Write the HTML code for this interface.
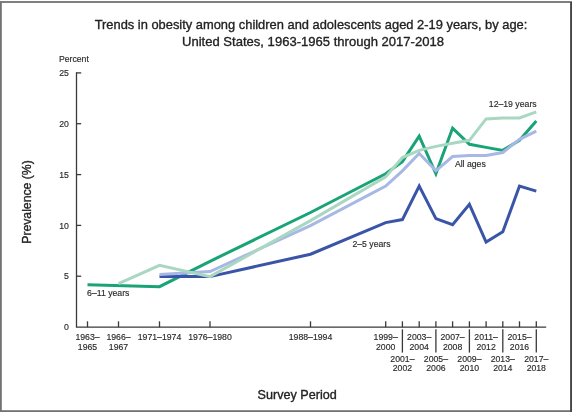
<!DOCTYPE html>
<html><head><meta charset="utf-8"><style>
html,body{margin:0;padding:0;background:#fff;}
body{width:573px;height:414px;overflow:hidden;}
svg{display:block;font-family:"Liberation Sans",sans-serif;will-change:transform;filter:blur(0.35px);}
</style></head><body>
<svg width="573" height="414" viewBox="0 0 573 414">
<rect x="0.9" y="2.0" width="570.2" height="409.1" fill="none" stroke="#727272" stroke-width="1.8"/>
<line x1="571.1" y1="2" x2="571.1" y2="411.9" stroke="#404040" stroke-width="1.6"/>
<text x="311" y="28.6" text-anchor="middle" font-size="13.5" fill="#222" stroke="#222" stroke-width="0.35" textLength="432.7" lengthAdjust="spacingAndGlyphs">Trends in obesity among children and adolescents aged 2-19 years, by age:</text>
<text x="313" y="46.1" text-anchor="middle" font-size="13.5" fill="#222" stroke="#222" stroke-width="0.35" textLength="262" lengthAdjust="spacingAndGlyphs">United States, 1963-1965 through 2017-2018</text>
<text transform="translate(30.5,202) rotate(-90)" text-anchor="middle" font-size="13.4" fill="#222" stroke="#222" stroke-width="0.35" textLength="83.5" lengthAdjust="spacingAndGlyphs">Prevalence (%)</text>
<text x="297.2" y="399.4" text-anchor="middle" font-size="12.5" fill="#222" stroke="#222" stroke-width="0.35" textLength="79.2" lengthAdjust="spacingAndGlyphs">Survey Period</text>
<text x="58.9" y="61.8" font-size="8.7" fill="#2a2a2a" stroke="#2a2a2a" stroke-width="0.15">Percent</text>
<text x="68.8" y="330.2" text-anchor="end" font-size="8.7" fill="#2a2a2a" stroke="#2a2a2a" stroke-width="0.15">0</text>
<text x="68.8" y="279.4" text-anchor="end" font-size="8.7" fill="#2a2a2a" stroke="#2a2a2a" stroke-width="0.15">5</text>
<line x1="76.5" y1="276.2" x2="81.2" y2="276.2" stroke="#3a3a3a" stroke-width="1.3"/>
<text x="68.8" y="228.5" text-anchor="end" font-size="8.7" fill="#2a2a2a" stroke="#2a2a2a" stroke-width="0.15">10</text>
<line x1="76.5" y1="225.4" x2="81.2" y2="225.4" stroke="#3a3a3a" stroke-width="1.3"/>
<text x="68.8" y="177.7" text-anchor="end" font-size="8.7" fill="#2a2a2a" stroke="#2a2a2a" stroke-width="0.15">15</text>
<line x1="76.5" y1="174.6" x2="81.2" y2="174.6" stroke="#3a3a3a" stroke-width="1.3"/>
<text x="68.8" y="126.8" text-anchor="end" font-size="8.7" fill="#2a2a2a" stroke="#2a2a2a" stroke-width="0.15">20</text>
<line x1="76.5" y1="123.7" x2="81.2" y2="123.7" stroke="#3a3a3a" stroke-width="1.3"/>
<text x="68.8" y="76.0" text-anchor="end" font-size="8.7" fill="#2a2a2a" stroke="#2a2a2a" stroke-width="0.15">25</text>
<line x1="76.5" y1="72.9" x2="81.2" y2="72.9" stroke="#3a3a3a" stroke-width="1.3"/>
<polyline points="76.5,72.3 76.5,327.2 546.2,327.2" fill="none" stroke="#3a3a3a" stroke-width="1.3"/>
<line x1="87.5" y1="321.3" x2="87.5" y2="327.2" stroke="#3a3a3a" stroke-width="1.3"/>
<line x1="118.5" y1="321.3" x2="118.5" y2="327.2" stroke="#3a3a3a" stroke-width="1.3"/>
<line x1="159.5" y1="321.3" x2="159.5" y2="327.2" stroke="#3a3a3a" stroke-width="1.3"/>
<line x1="210.0" y1="321.3" x2="210.0" y2="327.2" stroke="#3a3a3a" stroke-width="1.3"/>
<line x1="310.5" y1="321.3" x2="310.5" y2="327.2" stroke="#3a3a3a" stroke-width="1.3"/>
<line x1="385.7" y1="321.3" x2="385.7" y2="327.2" stroke="#3a3a3a" stroke-width="1.3"/>
<line x1="402.4" y1="321.3" x2="402.4" y2="327.2" stroke="#3a3a3a" stroke-width="1.3"/>
<line x1="419.2" y1="321.3" x2="419.2" y2="327.2" stroke="#3a3a3a" stroke-width="1.3"/>
<line x1="435.9" y1="321.3" x2="435.9" y2="327.2" stroke="#3a3a3a" stroke-width="1.3"/>
<line x1="452.6" y1="321.3" x2="452.6" y2="327.2" stroke="#3a3a3a" stroke-width="1.3"/>
<line x1="469.4" y1="321.3" x2="469.4" y2="327.2" stroke="#3a3a3a" stroke-width="1.3"/>
<line x1="486.1" y1="321.3" x2="486.1" y2="327.2" stroke="#3a3a3a" stroke-width="1.3"/>
<line x1="502.8" y1="321.3" x2="502.8" y2="327.2" stroke="#3a3a3a" stroke-width="1.3"/>
<line x1="519.5" y1="321.3" x2="519.5" y2="327.2" stroke="#3a3a3a" stroke-width="1.3"/>
<line x1="536.3" y1="321.3" x2="536.3" y2="327.2" stroke="#3a3a3a" stroke-width="1.3"/>
<line x1="402.4" y1="329.3" x2="402.4" y2="352.6" stroke="#3a3a3a" stroke-width="1.3"/>
<line x1="435.9" y1="329.3" x2="435.9" y2="352.6" stroke="#3a3a3a" stroke-width="1.3"/>
<line x1="469.4" y1="329.3" x2="469.4" y2="352.6" stroke="#3a3a3a" stroke-width="1.3"/>
<line x1="502.8" y1="329.3" x2="502.8" y2="352.6" stroke="#3a3a3a" stroke-width="1.3"/>
<line x1="536.3" y1="329.3" x2="536.3" y2="352.6" stroke="#3a3a3a" stroke-width="1.3"/>
<text x="87.5" y="340.2" text-anchor="middle" font-size="8.7" fill="#2a2a2a" stroke="#2a2a2a" stroke-width="0.15">1963–</text><text x="87.5" y="349.7" text-anchor="middle" font-size="8.7" fill="#2a2a2a" stroke="#2a2a2a" stroke-width="0.15">1965</text>
<text x="118.5" y="340.2" text-anchor="middle" font-size="8.7" fill="#2a2a2a" stroke="#2a2a2a" stroke-width="0.15">1966–</text><text x="118.5" y="349.7" text-anchor="middle" font-size="8.7" fill="#2a2a2a" stroke="#2a2a2a" stroke-width="0.15">1967</text>
<text x="159.5" y="340.2" text-anchor="middle" font-size="8.7" fill="#2a2a2a" stroke="#2a2a2a" stroke-width="0.15">1971–1974</text>
<text x="210.0" y="340.2" text-anchor="middle" font-size="8.7" fill="#2a2a2a" stroke="#2a2a2a" stroke-width="0.15">1976–1980</text>
<text x="310.5" y="340.2" text-anchor="middle" font-size="8.7" fill="#2a2a2a" stroke="#2a2a2a" stroke-width="0.15">1988–1994</text>
<text x="385.7" y="340.2" text-anchor="middle" font-size="8.7" fill="#2a2a2a" stroke="#2a2a2a" stroke-width="0.15">1999–</text><text x="385.7" y="349.7" text-anchor="middle" font-size="8.7" fill="#2a2a2a" stroke="#2a2a2a" stroke-width="0.15">2000</text>
<text x="419.2" y="340.2" text-anchor="middle" font-size="8.7" fill="#2a2a2a" stroke="#2a2a2a" stroke-width="0.15">2003–</text><text x="419.2" y="349.7" text-anchor="middle" font-size="8.7" fill="#2a2a2a" stroke="#2a2a2a" stroke-width="0.15">2004</text>
<text x="452.6" y="340.2" text-anchor="middle" font-size="8.7" fill="#2a2a2a" stroke="#2a2a2a" stroke-width="0.15">2007–</text><text x="452.6" y="349.7" text-anchor="middle" font-size="8.7" fill="#2a2a2a" stroke="#2a2a2a" stroke-width="0.15">2008</text>
<text x="486.1" y="340.2" text-anchor="middle" font-size="8.7" fill="#2a2a2a" stroke="#2a2a2a" stroke-width="0.15">2011–</text><text x="486.1" y="349.7" text-anchor="middle" font-size="8.7" fill="#2a2a2a" stroke="#2a2a2a" stroke-width="0.15">2012</text>
<text x="519.5" y="340.2" text-anchor="middle" font-size="8.7" fill="#2a2a2a" stroke="#2a2a2a" stroke-width="0.15">2015–</text><text x="519.5" y="349.7" text-anchor="middle" font-size="8.7" fill="#2a2a2a" stroke="#2a2a2a" stroke-width="0.15">2016</text>
<text x="402.4" y="361.7" text-anchor="middle" font-size="8.7" fill="#2a2a2a" stroke="#2a2a2a" stroke-width="0.15">2001–</text><text x="402.4" y="371.2" text-anchor="middle" font-size="8.7" fill="#2a2a2a" stroke="#2a2a2a" stroke-width="0.15">2002</text>
<text x="435.9" y="361.7" text-anchor="middle" font-size="8.7" fill="#2a2a2a" stroke="#2a2a2a" stroke-width="0.15">2005–</text><text x="435.9" y="371.2" text-anchor="middle" font-size="8.7" fill="#2a2a2a" stroke="#2a2a2a" stroke-width="0.15">2006</text>
<text x="469.4" y="361.7" text-anchor="middle" font-size="8.7" fill="#2a2a2a" stroke="#2a2a2a" stroke-width="0.15">2009–</text><text x="469.4" y="371.2" text-anchor="middle" font-size="8.7" fill="#2a2a2a" stroke="#2a2a2a" stroke-width="0.15">2010</text>
<text x="502.8" y="361.7" text-anchor="middle" font-size="8.7" fill="#2a2a2a" stroke="#2a2a2a" stroke-width="0.15">2013–</text><text x="502.8" y="371.2" text-anchor="middle" font-size="8.7" fill="#2a2a2a" stroke="#2a2a2a" stroke-width="0.15">2014</text>
<text x="536.3" y="361.7" text-anchor="middle" font-size="8.7" fill="#2a2a2a" stroke="#2a2a2a" stroke-width="0.15">2017–</text><text x="536.3" y="371.2" text-anchor="middle" font-size="8.7" fill="#2a2a2a" stroke="#2a2a2a" stroke-width="0.15">2018</text>
<polyline points="87.5,284.7 159.5,286.7 210.0,261.3 310.5,212.5 385.7,173.8 402.4,161.6 419.2,136.2 435.9,173.8 452.6,128.1 469.4,144.3 486.1,147.4 502.8,150.4 519.5,140.3 536.3,120.9" fill="none" stroke="#19a377" stroke-width="3.0" stroke-linejoin="miter"/>
<polyline points="159.5,276.6 210.0,276.6 310.5,254.2 385.7,222.6 402.4,219.6 419.2,186.0 435.9,218.6 452.6,224.7 469.4,204.3 486.1,242.0 502.8,231.8 519.5,186.0 536.3,191.1" fill="none" stroke="#3a55a8" stroke-width="3.0" stroke-linejoin="miter"/>
<polyline points="159.5,274.5 210.0,271.5 310.5,225.7 385.7,186.0 402.4,170.8 419.2,153.5 435.9,170.8 452.6,156.5 469.4,155.5 486.1,155.5 502.8,152.5 519.5,139.3 536.3,131.1" fill="none" stroke="#a8b8e5" stroke-width="3.0" stroke-linejoin="miter"/>
<polyline points="118.5,283.7 159.5,265.4 210.0,276.6 310.5,220.6 385.7,176.9 402.4,157.6 419.2,150.4 435.9,146.4 452.6,143.3 469.4,140.3 486.1,118.9 502.8,117.9 519.5,117.9 536.3,111.8" fill="none" stroke="#a9d7c2" stroke-width="3.0" stroke-linejoin="miter"/>
<text x="488.8" y="107.3" font-size="8.7" fill="#2a2a2a" stroke="#2a2a2a" stroke-width="0.15">12–19 years</text>
<text x="454.9" y="166.8" font-size="8.7" fill="#2a2a2a" stroke="#2a2a2a" stroke-width="0.15">All ages</text>
<text x="352.4" y="247.3" font-size="8.7" fill="#2a2a2a" stroke="#2a2a2a" stroke-width="0.15">2–5 years</text>
<text x="87.1" y="295.7" font-size="8.7" fill="#2a2a2a" stroke="#2a2a2a" stroke-width="0.15">6–11 years</text>
</svg>
</body></html>
